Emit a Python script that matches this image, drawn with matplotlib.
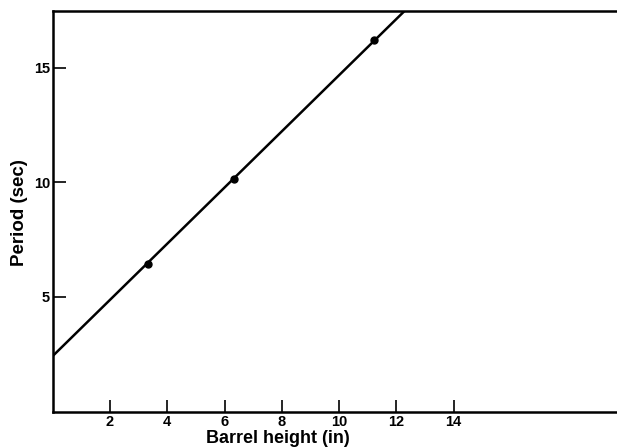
import matplotlib.pyplot as plt
import numpy as np

# measured points
height = [3.33, 6.33, 11.22]
period = [6.44, 10.15, 16.22]

# fitted line
line_x = [0, 20]
intercept = 2.42
slope = 1.226

x_ticks = [2, 4, 6, 8, 10, 12, 14]
y_ticks = [5, 10, 15]

plt.rcParams['font.family'] = ['Liberation Sans', 'DejaVu Sans']
plt.rcParams['font.weight'] = 'bold'

fig = plt.figure(figsize=(6.17, 4.47), dpi=100)
ax = fig.add_axes([0.0854, 0.0794, 0.9146, 0.8971])

ax.plot(line_x, [intercept + slope * v for v in line_x], color='black', lw=1.8)
ax.plot(height, period, 'o', color='black', ms=5)

ax.set_xlim(0, 19.7)
ax.set_ylim(0, 17.5)
ax.set_xticks(x_ticks)
ax.set_yticks(y_ticks)
ax.tick_params(direction='in', length=9, width=1.2, labelsize=10.5, pad=2.5)
ax.tick_params(axis='y', pad=2)
ax.spines['right'].set_visible(False)
for s in ['left', 'bottom', 'top']:
    ax.spines[s].set_linewidth(1.8)

ax.set_ylabel('Period (sec)', fontsize=13.5, fontweight='bold')
ax.yaxis.set_label_coords(-0.043, 0.497)
ax.set_xlabel('Barrel height (in)', fontsize=13, fontweight='bold')
ax.xaxis.set_label_coords(0.399, -0.047)

fig.savefig('out.png', dpi=100)
